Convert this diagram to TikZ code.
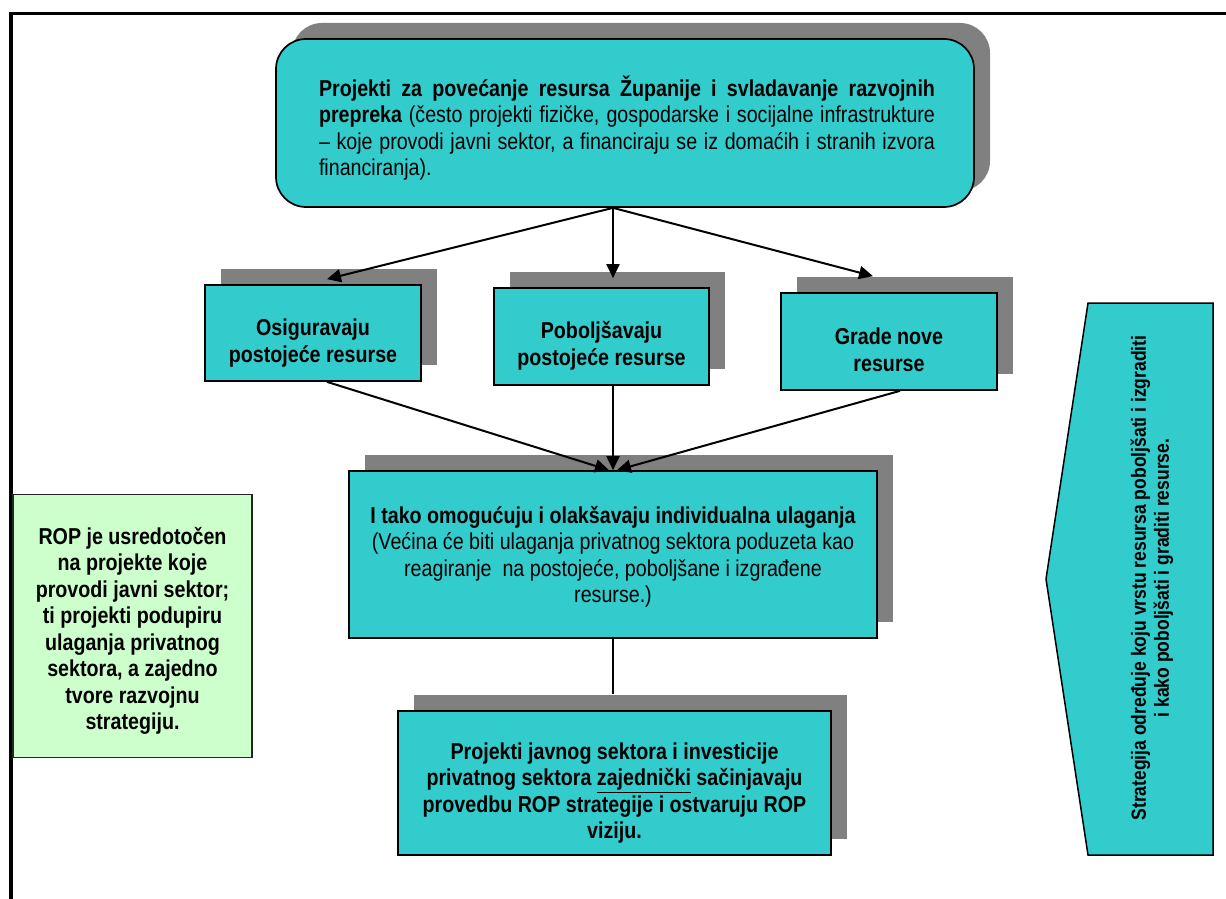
\documentclass[tikz,border=0pt]{standalone}
\usepackage{fontspec}
\setmainfont{Liberation Sans}[FakeStretch=0.855]
\usetikzlibrary{arrows.meta,shadows,calc}
\definecolor{tealfill}{HTML}{33CCCC}
\definecolor{shadowgray}{HTML}{808080}
\definecolor{greenfill}{HTML}{CCFFCC}
\begin{document}
\begin{tikzpicture}[x=1pt,y=-1pt,
  boxshape/.style={draw=black, line width=1.7pt, fill=tealfill, inner sep=0pt,
     drop shadow={fill=shadowgray, opacity=1, shadow xshift=16pt, shadow yshift=16pt}},
  txt/.style={font=\fontsize{23}{26.5}\selectfont, align=center, inner sep=0pt},
  btxt/.style={txt, font=\fontsize{23}{26.5}\selectfont\bfseries},
  conn/.style={line width=2pt, -{Triangle[length=14pt,width=13pt]}},
  plainline/.style={line width=2pt},
]
\useasboundingbox (0,0) rectangle (1226,899);
\draw[line width=3.4pt] (11,899) -- (11,13.5) -- (1226,13.5);

% top box
\node[boxshape, rounded corners=30pt, minimum width=698pt, minimum height=168pt] (top) at (625,123) {};
\node[txt, text width=616pt, align=left] (toptext) at (627,128)
 {\makebox[616pt][s]{\bfseries\spaceskip=5pt plus 20pt Projekti za povećanje resursa Županije i svladavanje razvojnih}\\
  \makebox[616pt][s]{\spaceskip=5pt plus 20pt \textbf{prepreka} (često projekti fizičke, gospodarske i socijalne infrastrukture}\\
  \makebox[616pt][s]{\spaceskip=5pt plus 20pt – koje provodi javni sektor, a financiraju se iz domaćih i stranih izvora}\\
  financiranja).};

% row 2
\node[boxshape, minimum width=216pt, minimum height=96pt] (b1) at (313,333) {};
\node[btxt] (b1t) at (313,343) {Osiguravaju\\postojeće resurse};
\node[boxshape, minimum width=215pt, minimum height=97pt] (b2) at (601.5,336.5) {};
\node[btxt] (b2t) at (601.5,346) {Poboljšavaju\\postojeće resurse};
\node[boxshape, minimum width=216pt, minimum height=97pt] (b3) at (889,341.5) {};
\node[btxt] (b3t) at (889,350) {Grade nove\\resurse};

% middle box
\node[boxshape, minimum width=528pt, minimum height=167pt] (mid) at (613,554.5) {};
\node[txt] (midt) at (613,557) {\textbf{I tako omogućuju i olakšavaju individualna ulaganja}\\(Većina će biti ulaganja privatnog sektora poduzeta kao\\reagiranje\ \ na postojeće, poboljšane i izgrađene\\resurse.)};

% bottom box
\node[boxshape, minimum width=433pt, minimum height=144pt] (bot) at (614.5,783) {};
\node[btxt] (bott) at (614.5,793) {Projekti javnog sektora i investicije\\privatnog sektora \underline{zajednički} sačinjavaju\\provedbu ROP strategije i ostvaruju ROP\\viziju.};

% green box
\node[draw=black!85, line width=1.2pt, fill=greenfill, minimum width=239pt, minimum height=263pt, inner sep=0pt] (rop) at (132.5,626) {};
\node[btxt] (ropt) at (132.5,631) {ROP je usredotočen\\na projekte koje\\provodi javni sektor;\\ti projekti podupiru\\ulaganja privatnog\\sektora, a zajedno\\tvore razvojnu\\strategiju.};

% strategy pentagon
\draw[line width=1.5pt, fill=tealfill] (1213,303) -- (1088,303) -- (1046,579) -- (1088,855) -- (1213,855) -- cycle;
\node[txt, font=\fontsize{20.5}{23}\selectfont\bfseries, rotate=90] (strat) at (1152,578)
 {Strategija određuje koju vrstu resursa poboljšati i izgraditi\\i kako poboljšati i graditi resurse.};

% connectors
\coordinate (src) at (top.south -| mid.north);
\draw[conn] (src) -- ($(b1.north)+(14,-5)$);
\draw[conn] (src) -- ($(b2.north -| mid.north)+(0,-9)$);
\draw[conn] (src) -- ($(b3.north)+(-16,-16)$);
\draw[conn] ($(b1.south)+(14,0)$) -- ($(mid.north)+(-4,0)$);
\draw[conn] (b2.south -| mid.north) -- (mid.north);
\draw[conn] ($(b3.south)+(11,0)$) -- ($(mid.north)+(4,0)$);
\draw[plainline] (mid.south) -- ($(mid.south |- bot.north)+(0,-16)$);
\end{tikzpicture}
\end{document}
